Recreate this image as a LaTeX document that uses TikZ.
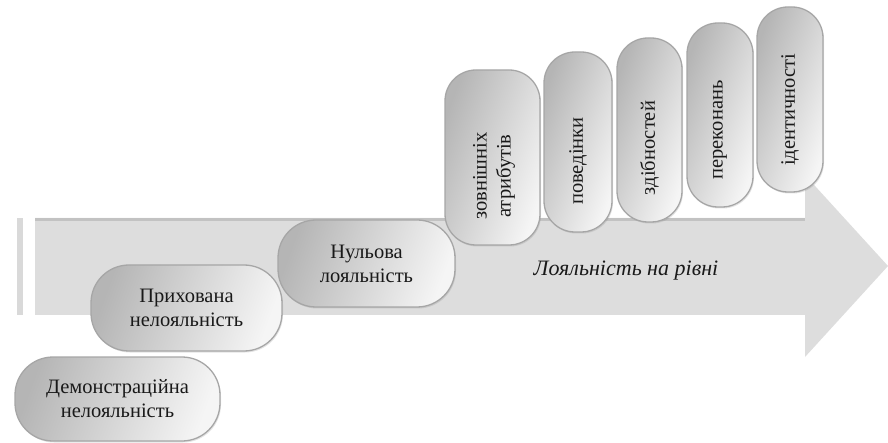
\documentclass[tikz,border=0pt]{standalone}
\usepackage{fontspec}
\setmainfont{Liberation Serif}
\usepackage{tikz}
\usetikzlibrary{shadows}
\tikzstyle{pill}=[draw=gray!70, line width=1.3pt, rounded corners=38pt, left color=gray!58, right color=gray!8, shading angle=70, drop shadow={opacity=0.22,shadow xshift=1pt,shadow yshift=-1.5pt}, inner sep=0pt, outer sep=0pt, align=center, text=black!90, font=\fontsize{20.5}{24}\selectfont]
\tikzstyle{vpill}=[pill, rotate=90, rounded corners=31pt]
\tikzstyle{vtext}=[rotate=90, align=center, inner sep=0pt, text=black!90, font=\fontsize{20.5}{24}\selectfont]

\begin{document}
\begin{tikzpicture}[x=1pt,y=-1pt]
    \useasboundingbox (0,0) rectangle (888,443);

    % big arrow
    \fill[gray!30] (17,218) rectangle (23,315);
    \fill[gray!27] (35,218) -- (805,218) -- (805,175) -- (888,266) -- (805,357) -- (805,315) -- (35,315) -- cycle;
    \draw[gray!48, line width=3pt] (35,219.5) -- (805,219.5);
    \node[font=\fontsize{22}{26}\selectfont\itshape, text=black!90] (caption) at (626,271) {Лояльність на рівні};

    % steps
    \node[pill, minimum width=205, minimum height=84] (demo) at (117.5,399) {Демонстраційна\\нелояльність};
    \node[pill, minimum width=191, minimum height=86] (hidden) at (186.5,308) {Прихована\\нелояльність};
    \node[pill, minimum width=177, minimum height=87] (zero) at (366.5,263.5) {Нульова\\лояльність};

    % levels
    \node[vpill, minimum width=175, minimum height=95] (ext) at (492.5,157.5) {};
    \node[vpill, minimum width=180, minimum height=68] (behav) at (578,142) {};
    \node[vpill, minimum width=184, minimum height=65] (abil) at (649.5,130) {};
    \node[vpill, minimum width=184, minimum height=66] (belief) at (720,115) {};
    \node[vpill, minimum width=185, minimum height=66] (ident) at (790,99.5) {};

    \node[vtext] (extT) at (494,176) {зовнішніх\\атрибутів};
    \node[vtext] (behavT) at (578,161) {поведінки};
    \node[vtext] (abilT) at (649.5,148) {здібностей};
    \node[vtext] (beliefT) at (720,130) {переконань};
    \node[vtext] (identT) at (790,110) {ідентичності};
\end{tikzpicture}
\end{document}
